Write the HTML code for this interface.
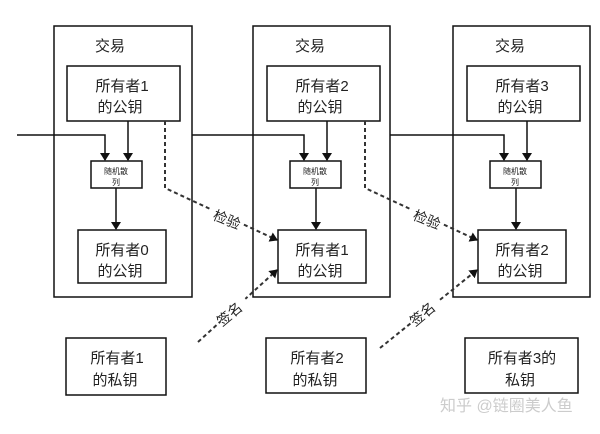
<!DOCTYPE html>
<html><head><meta charset="utf-8"><style>
body{margin:0;background:#fff;width:600px;height:429px;overflow:hidden}
svg text{font-family:"Liberation Sans","Noto Sans CJK SC",sans-serif;fill:#222}
</style></head><body>
<svg width="600" height="429" viewBox="0 0 600 429" xmlns="http://www.w3.org/2000/svg">
<defs>
<marker id="a" markerWidth="8" markerHeight="10" refX="7" refY="5" orient="auto" markerUnits="userSpaceOnUse"><path d="M0,0 L8,5 L0,10 z" fill="#111"/></marker>
</defs>
<g fill="none" stroke="#111" stroke-width="1.5">
<rect x="54" y="26" width="138" height="271"/>
<rect x="253" y="26" width="137" height="271"/>
<rect x="453" y="26" width="137" height="271"/>
<rect x="67" y="66" width="113" height="55"/>
<rect x="267" y="66" width="113" height="55"/>
<rect x="467" y="66" width="113" height="55"/>
<rect x="91" y="161" width="51" height="27"/>
<rect x="290" y="161" width="51" height="27"/>
<rect x="490" y="161" width="51" height="27"/>
<rect x="78" y="230" width="88" height="53"/>
<rect x="278" y="230" width="88" height="53"/>
<rect x="478" y="230" width="88" height="53"/>
<rect x="66" y="338" width="100" height="57"/>
<rect x="266" y="338" width="100" height="55"/>
<rect x="465" y="338" width="113" height="55"/>
<path d="M17 135 H105 V160" marker-end="url(#a)"/>
<path d="M192 135 H304 V160" marker-end="url(#a)"/>
<path d="M390 135 H504 V160" marker-end="url(#a)"/>
<path d="M128 121 V160" marker-end="url(#a)"/>
<path d="M327 121 V160" marker-end="url(#a)"/>
<path d="M527 121 V160" marker-end="url(#a)"/>
<path d="M116 188 V229" marker-end="url(#a)"/>
<path d="M316 188 V229" marker-end="url(#a)"/>
<path d="M516 188 V229" marker-end="url(#a)"/>
<g stroke-dasharray="4,3" stroke-width="2" stroke="#333">
<path d="M165 121 V188 L277 240" marker-end="url(#a)"/>
<path d="M365 121 V188 L477 240" marker-end="url(#a)"/>
<path d="M198 342 L277 270" marker-end="url(#a)"/>
<path d="M380 348 L477 270" marker-end="url(#a)"/>
</g>
</g>
<g fill="#fff">
<rect x="208" y="204" width="36" height="24" transform="rotate(22 226 216)"/>
<rect x="408" y="204" width="36" height="24" transform="rotate(22 426 216)"/>
<rect x="218" y="302" width="34" height="22" transform="rotate(-40 235 313)"/>
<rect x="410" y="302" width="34" height="22" transform="rotate(-40 427 313)"/>
</g>
<g font-size="15" text-anchor="middle">
<text x="110" y="51">交易</text><text x="310" y="51">交易</text><text x="510" y="51">交易</text>
<text x="122" y="91">所有者1</text><text x="120" y="112">的公钥</text>
<text x="322" y="91">所有者2</text><text x="320" y="112">的公钥</text>
<text x="522" y="91">所有者3</text><text x="520" y="112">的公钥</text>
<text x="122" y="255">所有者0</text><text x="120" y="276">的公钥</text>
<text x="322" y="255">所有者1</text><text x="320" y="276">的公钥</text>
<text x="522" y="255">所有者2</text><text x="520" y="276">的公钥</text>
<text x="117" y="363">所有者1</text><text x="115" y="385">的私钥</text>
<text x="317" y="363">所有者2</text><text x="315" y="385">的私钥</text>
<text x="522" y="363">所有者3的</text><text x="520" y="385">私钥</text>
</g>
<g font-size="8" text-anchor="middle">
<text x="116" y="174">随机散</text><text x="116" y="185">列</text>
<text x="315" y="174">随机散</text><text x="315" y="185">列</text>
<text x="515" y="174">随机散</text><text x="515" y="185">列</text>
</g>
<g font-size="14">
<text transform="translate(212,219) rotate(22)">检验</text>
<text transform="translate(412,219) rotate(22)">检验</text>
<text transform="translate(222,327) rotate(-40)">签名</text>
<text transform="translate(415,327) rotate(-40)">签名</text>
</g>
<text x="440" y="411" font-size="16" style="fill:#ccc">知乎 @链圈美人鱼</text>
</svg>
</body></html>
